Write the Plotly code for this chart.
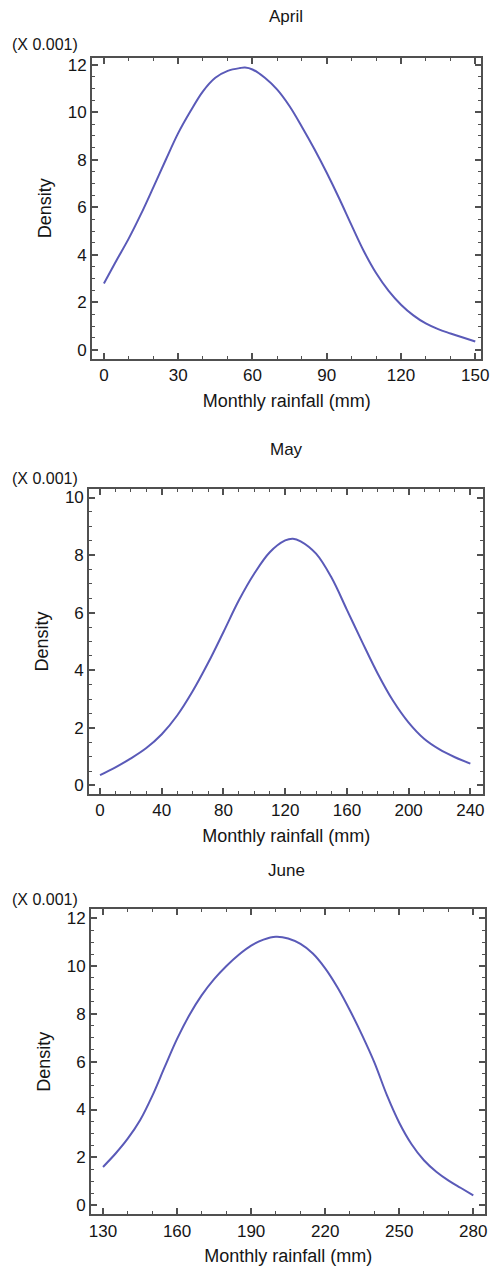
import plotly.graph_objects as go

# Monthly rainfall (mm) and fitted density (x 0.001) for each month
april_rain = [0, 5, 10, 15, 20, 25, 30, 35, 40, 45, 50, 55, 57, 60, 65, 70, 75, 80, 85,
              90, 95, 100, 105, 110, 115, 120, 125, 130, 135, 140, 145, 150]
april_density = [2.79, 3.75, 4.68, 5.72, 6.85, 8.00, 9.12, 10.05, 10.88, 11.45, 11.74, 11.86, 11.88,
                 11.80, 11.45, 10.95, 10.25, 9.38, 8.45, 7.45, 6.38, 5.25, 4.15, 3.22,
                 2.48, 1.90, 1.45, 1.11, 0.87, 0.69, 0.52, 0.35]

may_rain = [0, 10, 20, 30, 40, 50, 60, 70, 80, 90, 100, 110, 120, 125, 130, 140, 150,
            160, 170, 180, 190, 200, 210, 220, 230, 240]
may_density = [0.36, 0.63, 0.94, 1.30, 1.78, 2.43, 3.27, 4.25, 5.33, 6.43, 7.36, 8.10, 8.51,
               8.57, 8.48, 8.05, 7.22, 6.10, 4.97, 3.88, 2.93, 2.18, 1.62, 1.25, 0.98, 0.76]

june_rain = [130, 135, 140, 145, 150, 155, 160, 165, 170, 175, 180, 185, 190, 195, 200,
             205, 210, 215, 220, 225, 230, 235, 240, 245, 250, 255, 260, 265, 270, 275, 280]
june_density = [1.60, 2.15, 2.78, 3.55, 4.58, 5.78, 6.95, 7.95, 8.78, 9.45, 10.00, 10.47,
                10.85, 11.10, 11.22, 11.15, 10.92, 10.52, 9.90, 9.10, 8.15, 7.10, 5.95,
                4.60, 3.45, 2.55, 1.88, 1.40, 1.03, 0.72, 0.41]

month_titles = ["April", "May", "June"]
x_title = "Monthly rainfall (mm)"
y_title = "Density"
scale_note = "(X 0.001)"

W, H = 500, 1275
LINE_BLUE = "#5a5ab8"
FRAME = "#505050"
TEXT = "#151515"
FONT = "Liberation Sans, Arial, sans-serif"

# panel boxes in pixels: left, right, top, bottom
boxes = [(92, 489, 56, 358), (89, 491, 489, 794), (91, 493, 910, 1216)]
x_ranges = [(-4.75, 152.4), (-7.0, 248.3), (125.2, 284.8)]
y_ranges = [(-0.38, 12.29), (-0.28, 10.28), (-0.375, 12.375)]
x_dticks = [30, 40, 30]
x_ticks0 = [0, 0, 130]
y_dticks = [2, 2, 2]
title_y = [15, 449, 871]
note_y = [43, 478, 900]

series = [(april_rain, april_density), (may_rain, may_density), (june_rain, june_density)]

fig = go.Figure()
annotations = []
for i, ((xs, ys), (l, r, t, b)) in enumerate(zip(series, boxes)):
    n = "" if i == 0 else str(i + 1)
    fig.add_trace(go.Scatter(
        x=xs, y=ys, mode="lines", line=dict(color=LINE_BLUE, width=2, shape="spline"),
        xaxis="x" + n, yaxis="y" + n, showlegend=False, hoverinfo="skip"))
    axis_common = dict(
        showline=True, linecolor=FRAME, linewidth=2, mirror="allticks",
        ticks="inside", ticklen=6, tickwidth=1.5, tickcolor=FRAME,
        showgrid=False, zeroline=False,
        tickfont=dict(family=FONT, size=17, color=TEXT),
    )
    fig.update_layout(**{
        "xaxis" + n: dict(
            axis_common, domain=[l / W, r / W], range=list(x_ranges[i]),
            anchor="y" + n, tick0=x_ticks0[i], dtick=x_dticks[i],
            minor=dict(dtick=10, tick0=x_ticks0[i], ticks="inside", ticklen=3,
                       tickwidth=1.2, tickcolor=FRAME),
            title=dict(text=x_title, font=dict(family=FONT, size=18, color=TEXT), standoff=10),
        ),
        "yaxis" + n: dict(
            axis_common, domain=[1 - b / H, 1 - t / H], range=list(y_ranges[i]),
            anchor="x" + n, tick0=0, dtick=y_dticks[i],
            minor=dict(dtick=0.5, tick0=0, ticks="inside", ticklen=3,
                       tickwidth=1.2, tickcolor=FRAME),
            title=dict(text=y_title, font=dict(family=FONT, size=18, color=TEXT), standoff=12),
        ),
    })
    annotations.append(dict(
        text=month_titles[i], x=290 / W, y=1 - title_y[i] / H, xref="paper", yref="paper",
        xanchor="center", yanchor="middle", showarrow=False,
        font=dict(family=FONT, size=17, color=TEXT)))
    annotations.append(dict(
        text=scale_note, x=8 / W, y=1 - note_y[i] / H, xref="paper", yref="paper",
        xanchor="left", yanchor="middle", showarrow=False,
        font=dict(family=FONT, size=16, color=TEXT)))

fig.update_layout(
    width=W, height=H, margin=dict(l=0, r=0, t=0, b=0),
    paper_bgcolor="white", plot_bgcolor="white",
    annotations=annotations,
)

fig.write_html("out.html")
